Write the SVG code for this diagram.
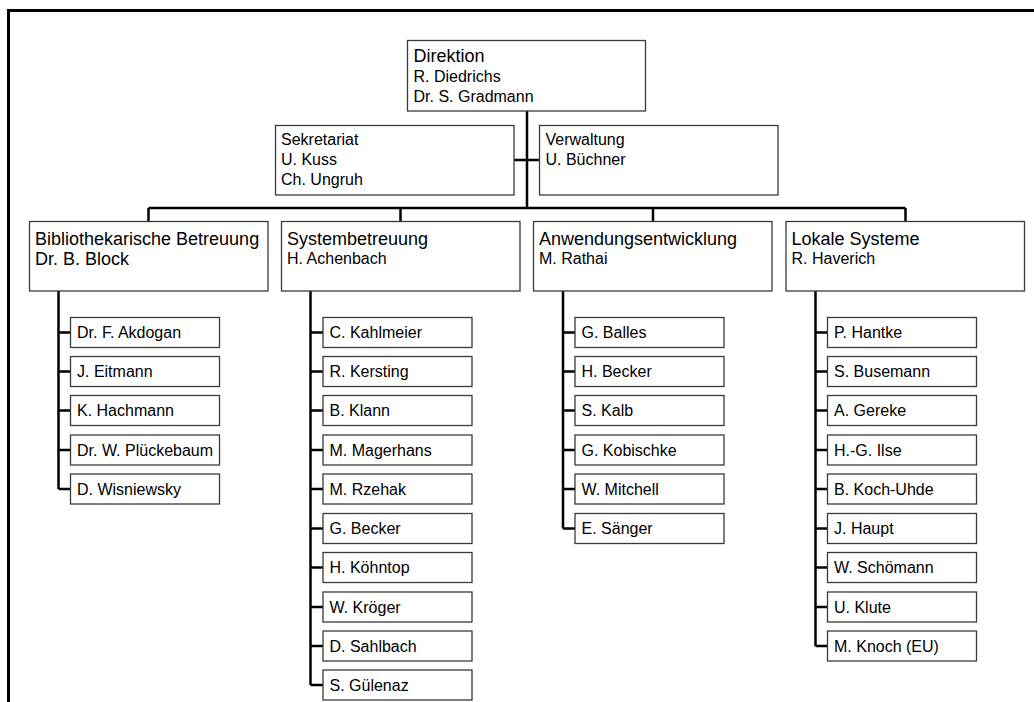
<svg xmlns="http://www.w3.org/2000/svg" width="1034" height="702" viewBox="0 0 1034 702">
<style>
text{font-family:"Liberation Sans",Arial,sans-serif;fill:#000}
.t16{font-size:16px}
.t18{font-size:18px}
.box{fill:#fff;stroke:#3a3a3a;stroke-width:1.3}
.ln{stroke:#000;stroke-width:2.5;fill:none}
.frame{stroke:#000;stroke-width:3;fill:none}
</style>
<rect width="1034" height="702" fill="#fff"/>
<path class="frame" d="M8.5,702 V10.5 H1034"/>
<g id="connectors">
<path class="ln" d="M527,111 V208 M514,160 H539 M148.5,208 H905.5 M148.5,208 V221.5 M400.5,208 V221.5 M653,208 V221.5 M905.5,208 V221.5"/>
<path class="ln" d="M58.5,291 V489 M58.5,332.5 H70.5 M58.5,371.5 H70.5 M58.5,410.5 H70.5 M58.5,450 H70.5 M58.5,489 H70.5"/>
<path class="ln" d="M310.5,291 V685 M310.5,332.5 H323 M310.5,371.5 H323 M310.5,410.5 H323 M310.5,450 H323 M310.5,489 H323 M310.5,528.5 H323 M310.5,567.5 H323 M310.5,607 H323 M310.5,646 H323 M310.5,685 H323"/>
<path class="ln" d="M563,291 V528.5 M563,332.5 H575 M563,371.5 H575 M563,410.5 H575 M563,450 H575 M563,489 H575 M563,528.5 H575"/>
<path class="ln" d="M815.5,291 V646 M815.5,332.5 H827.5 M815.5,371.5 H827.5 M815.5,410.5 H827.5 M815.5,450 H827.5 M815.5,489 H827.5 M815.5,528.5 H827.5 M815.5,567.5 H827.5 M815.5,607 H827.5 M815.5,646 H827.5"/>
</g>
<g id="direktion"><rect class="box" x="407.5" y="40.5" width="238" height="70.5"/>
<text class="t18" x="413.5" y="62">Direktion</text><text class="t16" x="413.5" y="82">R. Diedrichs</text><text class="t16" x="413.5" y="101.5">Dr. S. Gradmann</text></g>
<g id="sekretariat"><rect class="box" x="275.5" y="125.5" width="238.5" height="69.5"/>
<text class="t16" x="281" y="145">Sekretariat</text><text class="t16" x="281" y="165">U. Kuss</text><text class="t16" x="281" y="184.5">Ch. Ungruh</text></g>
<g id="verwaltung"><rect class="box" x="539.5" y="125.5" width="238.5" height="69.5"/>
<text class="t16" x="545.5" y="145">Verwaltung</text><text class="t16" x="545.5" y="165">U. Büchner</text></g>
<g id="bibliothek"><rect class="box" x="29.5" y="221.5" width="238.5" height="69.5"/>
<text class="t18" x="35" y="245">Bibliothekarische Betreuung</text><text class="t18" x="35" y="264.5">Dr. B. Block</text></g>
<g id="system"><rect class="box" x="281.5" y="221.5" width="238.5" height="69.5"/>
<text class="t18" x="287" y="244.5">Systembetreuung</text><text class="t16" x="287" y="263.5">H. Achenbach</text></g>
<g id="anwendung"><rect class="box" x="533.5" y="221.5" width="238.5" height="69.5"/>
<text class="t18" x="539" y="244.5">Anwendungsentwicklung</text><text class="t16" x="539" y="263.5">M. Rathai</text></g>
<g id="lokale"><rect class="box" x="786" y="221.5" width="238.5" height="69.5"/>
<text class="t18" x="791.5" y="244.5">Lokale Systeme</text><text class="t16" x="791.5" y="263.5">R. Haverich</text></g>
<g id="bib-children">
<g id="b1"><rect class="box" x="70.5" y="317.5" width="149" height="30"/><text class="t16" x="77" y="338">Dr. F. Akdogan</text></g>
<g id="b2"><rect class="box" x="70.5" y="356.5" width="149" height="30"/><text class="t16" x="77" y="377">J. Eitmann</text></g>
<g id="b3"><rect class="box" x="70.5" y="395.5" width="149" height="30"/><text class="t16" x="77" y="416">K. Hachmann</text></g>
<g id="b4"><rect class="box" x="70.5" y="435" width="149" height="30"/><text class="t16" x="77" y="455.5">Dr. W. Plückebaum</text></g>
<g id="b5"><rect class="box" x="70.5" y="474" width="149" height="30"/><text class="t16" x="77" y="494.5">D. Wisniewsky</text></g>
</g>
<g id="sys-children">
<g id="s1"><rect class="box" x="323" y="317.5" width="149" height="30"/><text class="t16" x="329.5" y="338">C. Kahlmeier</text></g>
<g id="s2"><rect class="box" x="323" y="356.5" width="149" height="30"/><text class="t16" x="329.5" y="377">R. Kersting</text></g>
<g id="s3"><rect class="box" x="323" y="395.5" width="149" height="30"/><text class="t16" x="329.5" y="416">B. Klann</text></g>
<g id="s4"><rect class="box" x="323" y="435" width="149" height="30"/><text class="t16" x="329.5" y="455.5">M. Magerhans</text></g>
<g id="s5"><rect class="box" x="323" y="474" width="149" height="30"/><text class="t16" x="329.5" y="494.5">M. Rzehak</text></g>
<g id="s6"><rect class="box" x="323" y="513.5" width="149" height="30"/><text class="t16" x="329.5" y="534">G. Becker</text></g>
<g id="s7"><rect class="box" x="323" y="552.5" width="149" height="30"/><text class="t16" x="329.5" y="573">H. Köhntop</text></g>
<g id="s8"><rect class="box" x="323" y="592" width="149" height="30"/><text class="t16" x="329.5" y="612.5">W. Kröger</text></g>
<g id="s9"><rect class="box" x="323" y="631" width="149" height="30"/><text class="t16" x="329.5" y="651.5">D. Sahlbach</text></g>
<g id="s10"><rect class="box" x="323" y="670" width="149" height="30"/><text class="t16" x="329.5" y="690.5">S. Gülenaz</text></g>
</g>
<g id="anw-children">
<g id="a1"><rect class="box" x="575" y="317.5" width="149" height="30"/><text class="t16" x="581.5" y="338">G. Balles</text></g>
<g id="a2"><rect class="box" x="575" y="356.5" width="149" height="30"/><text class="t16" x="581.5" y="377">H. Becker</text></g>
<g id="a3"><rect class="box" x="575" y="395.5" width="149" height="30"/><text class="t16" x="581.5" y="416">S. Kalb</text></g>
<g id="a4"><rect class="box" x="575" y="435" width="149" height="30"/><text class="t16" x="581.5" y="455.5">G. Kobischke</text></g>
<g id="a5"><rect class="box" x="575" y="474" width="149" height="30"/><text class="t16" x="581.5" y="494.5">W. Mitchell</text></g>
<g id="a6"><rect class="box" x="575" y="513.5" width="149" height="30"/><text class="t16" x="581.5" y="534">E. Sänger</text></g>
</g>
<g id="lok-children">
<g id="l1"><rect class="box" x="827.5" y="317.5" width="149" height="30"/><text class="t16" x="834" y="338">P. Hantke</text></g>
<g id="l2"><rect class="box" x="827.5" y="356.5" width="149" height="30"/><text class="t16" x="834" y="377">S. Busemann</text></g>
<g id="l3"><rect class="box" x="827.5" y="395.5" width="149" height="30"/><text class="t16" x="834" y="416">A. Gereke</text></g>
<g id="l4"><rect class="box" x="827.5" y="435" width="149" height="30"/><text class="t16" x="834" y="455.5">H.-G. Ilse</text></g>
<g id="l5"><rect class="box" x="827.5" y="474" width="149" height="30"/><text class="t16" x="834" y="494.5">B. Koch-Uhde</text></g>
<g id="l6"><rect class="box" x="827.5" y="513.5" width="149" height="30"/><text class="t16" x="834" y="534">J. Haupt</text></g>
<g id="l7"><rect class="box" x="827.5" y="552.5" width="149" height="30"/><text class="t16" x="834" y="573">W. Schömann</text></g>
<g id="l8"><rect class="box" x="827.5" y="592" width="149" height="30"/><text class="t16" x="834" y="612.5">U. Klute</text></g>
<g id="l9"><rect class="box" x="827.5" y="631" width="149" height="30"/><text class="t16" x="834" y="651.5">M. Knoch (EU)</text></g>
</g>
</svg>
